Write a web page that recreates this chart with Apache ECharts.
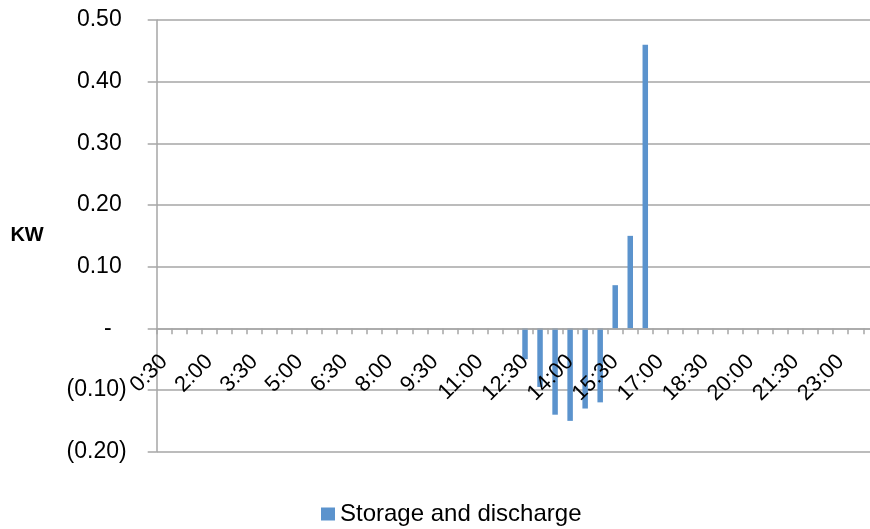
<!DOCTYPE html>
<html>
<head>
<meta charset="utf-8">
<script src="https://cdn.jsdelivr.net/npm/echarts@6/dist/echarts.min.js"></script>
<style>
  html, body { margin: 0; padding: 0; background: #ffffff; overflow: hidden; }
  #chart { width: 879px; height: 529px; }
</style>
</head>
<body>
<div id="chart"></div>
<script>
// Half-hourly time slots, 0:30 through 24:00
const timeSlots = [
  '0:30','1:00','1:30','2:00','2:30','3:00','3:30','4:00','4:30','5:00','5:30','6:00',
  '6:30','7:00','7:30','8:00','8:30','9:00','9:30','10:00','10:30','11:00','11:30','12:00',
  '12:30','13:00','13:30','14:00','14:30','15:00','15:30','16:00','16:30','17:00','17:30','18:00',
  '18:30','19:00','19:30','20:00','20:30','21:00','21:30','22:00','22:30','23:00','23:30','24:00'
];

// Battery power per slot in kW (negative = storing, positive = discharging)
const storageDischarge = [
  0, 0, 0, 0, 0, 0, 0, 0, 0, 0, 0, 0,
  0, 0, 0, 0, 0, 0, 0, 0, 0, 0, 0, 0,
  -0.05, -0.095, -0.14, -0.15, -0.13, -0.12, 0.07, 0.15, 0.46, 0, 0, 0,
  0, 0, 0, 0, 0, 0, 0, 0, 0, 0, 0, 0
];

const seriesName = 'Storage and discharge';
const yAxisTitle = 'KW';

const FONT = '"Liberation Sans", Arial, sans-serif';
const GRID_GREY = '#a6a6a6';
const BAR_BLUE = '#5b93cd';

const Y_MIN = -0.2;
const Y_MAX = 0.5;
const GRID_TOP = 20;
const GRID_BOTTOM = 77.3;
const GRID_HEIGHT = 529 - GRID_TOP - GRID_BOTTOM;

// Accounting-style labels: positives padded, zero as a dash, negatives in brackets
function accountingLabel(v) {
  const r = Math.round(v * 100) / 100;
  if (r === 0) return '{z|-}';
  if (r < 0) return '{n|(' + (-r).toFixed(2) + ')}';
  return '{p|' + r.toFixed(2) + '}';
}

// The category axis sits on the zero line, so shift it up from the grid bottom
const zeroOffset = -GRID_HEIGHT * (0 - Y_MIN) / (Y_MAX - Y_MIN);

const chart = echarts.init(document.getElementById('chart'), null, { renderer: 'canvas' });

chart.setOption({
  animation: false,
  backgroundColor: '#ffffff',
  textStyle: { fontFamily: FONT },
  grid: { left: 156.7, right: 0.7, top: GRID_TOP, bottom: GRID_BOTTOM, containLabel: false },
  legend: {
    data: [seriesName],
    left: 321,
    top: 502,
    padding: 0,
    icon: 'rect',
    itemWidth: 14,
    itemHeight: 13,
    textStyle: { fontFamily: FONT, fontSize: 24, color: '#000000' }
  },
  xAxis: {
    type: 'category',
    data: timeSlots,
    boundaryGap: true,
    offset: zeroOffset,
    z: 3,
    axisLine: { onZero: false, lineStyle: { color: GRID_GREY, width: 1.5 } },
    axisTick: { show: true, interval: 0, length: 6, inside: false, lineStyle: { color: GRID_GREY, width: 1.5 } },
    axisLabel: {
      interval: 2,
      rotate: 45,
      margin: 30,
      fontFamily: FONT,
      fontSize: 22,
      color: '#000000'
    },
    splitLine: { show: false }
  },
  yAxis: {
    type: 'value',
    min: Y_MIN,
    max: Y_MAX,
    interval: 0.1,
    name: yAxisTitle,
    nameLocation: 'middle',
    nameRotate: 0,
    nameGap: 113,
    nameTextStyle: { fontFamily: FONT, fontSize: 20, fontWeight: 'bold', color: '#000000', padding: [10, 0, 0, 0] },
    axisLine: { show: true, lineStyle: { color: GRID_GREY, width: 1.5 } },
    axisTick: { show: true, length: 9, inside: false, lineStyle: { color: GRID_GREY, width: 1.5 } },
    axisLabel: {
      margin: 30,
      formatter: accountingLabel,
      fontFamily: FONT,
      fontSize: 23,
      color: '#000000',
      rich: {
        p: { fontFamily: FONT, fontSize: 23, color: '#000000', padding: [0, 5, 0, 0] },
        z: { fontFamily: FONT, fontSize: 23, color: '#000000', padding: [0, 15, 0, 0] },
        n: { fontFamily: FONT, fontSize: 23, color: '#000000' }
      }
    },
    splitLine: { show: true, showMinLine: true, showMaxLine: true, lineStyle: { color: GRID_GREY, width: 1.5 } }
  },
  series: [{
    name: seriesName,
    type: 'bar',
    data: storageDischarge,
    barWidth: 5.5,
    itemStyle: { color: BAR_BLUE }
  }]
});
</script>
</body>
</html>
